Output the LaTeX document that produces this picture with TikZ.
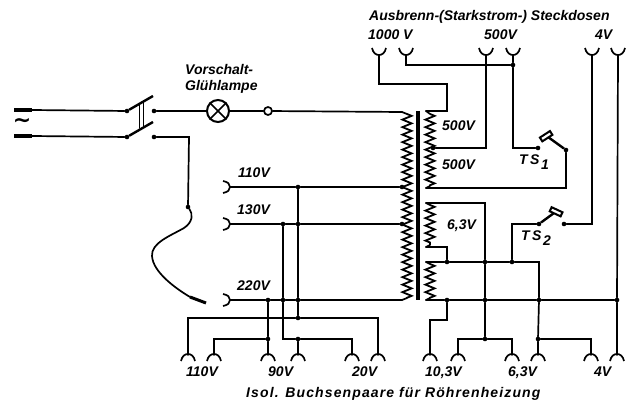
\documentclass[tikz,border=0pt]{standalone}
\usepackage{fontspec}
\setmainfont{Liberation Sans}
\newfontfamily\symf{DejaVu Sans}
\usetikzlibrary{decorations.pathmorphing}
\tikzset{
  wire/.style={line width=1.7pt,line join=miter,line cap=round,black},
  heavy/.style={line width=3.6pt,black},
  coil/.style={line width=1.8pt,black,decorate,decoration={zigzag,segment length=7.5pt,amplitude=4.6pt}},
  dot/.style={circle,fill=black,inner sep=0pt,minimum size=5pt},
  smalldot/.style={circle,fill=black,inner sep=0pt,minimum size=4.6pt},
  lab/.style={font=\fontsize{14}{15}\selectfont\bfseries\itshape,inner sep=0pt,anchor=mid west},
  sockU/.pic={\draw[line width=1.7pt] (-7,-7) .. controls (-6,-2) and (-3,0) .. (0,0) .. controls (3,0) and (6,-2) .. (7,-7);},
  sockN/.pic={\draw[line width=1.7pt] (-7,6) .. controls (-6,1) and (-3,-1) .. (0,-1) .. controls (3,-1) and (6,1) .. (7,6);},
  sockL/.pic={\draw[line width=1.7pt] (-7,-6) .. controls (-2,-5) and (0,-3) .. (0,0) .. controls (0,3) and (-2,5) .. (-7,6);}
}
\begin{document}
\begin{tikzpicture}[x=1pt,y=-1pt]
\useasboundingbox (0,0) rectangle (628,403);
% mains
\coordinate (inA) at (32,110); \coordinate (inB) at (32,136);
\coordinate (inA0) at (14,110); \coordinate (inB0) at (14,136);
\draw[heavy] (inA0) -- (inA); \draw[heavy] (inB0) -- (inB);
\node[smalldot] (swA) at (127,111) {}; \node[smalldot] (swB) at (127,137) {};
\coordinate (swAe) at (153,96); \coordinate (swBe) at (153,122);
\draw[wire] (inA) -- (swA); \draw[wire] (inB) -- (swB);
\draw[line width=2.4pt] (swA) -- (swAe); \draw[line width=2.4pt] (swB) -- (swBe);
\draw[wire] (139.5,103.5) -- (139.5,128); \draw[wire] (143.5,101.5) -- (143.5,126);
\node[inner sep=0pt] (ac) at (22,123) {\symf\bfseries\fontsize{22}{22}\selectfont ∼};
\node[smalldot] (ctA) at (154,111) {}; \node[smalldot] (ctB) at (154,137) {};
% lamp
\node[circle,draw,line width=2pt,minimum size=22pt,inner sep=0pt] (lamp) at (218,111) {};
\draw[line width=1.7pt] (lamp.north west) -- (lamp.south east) (lamp.north east) -- (lamp.south west);
\node[circle,draw,line width=1.7pt,fill=white,minimum size=8pt,inner sep=0pt] (term) at (268,111) {};
% transformer
\draw[line width=4.5pt] (418,111) -- (418,300);
\coordinate (pT) at (402,112); \coordinate (pB) at (402,300);
\draw[coil] (407,114) -- (407,298);
\draw[wire] (pT) -- (407,114) (pB) -- (407,298);
\draw[wire] (ctA) -- (lamp) -- (term) -- (pT);
% secondaries
\draw[coil] (430,114) -- (430,186);
\draw[coil] (430,205) -- (430,245);
\draw[coil] (430,264) -- (430,298);
\coordinate (s1T) at (426,111); \coordinate (s1B) at (426,188);
\coordinate (s2T) at (426,203); \coordinate (s2B) at (426,247);
\coordinate (s3T) at (426,262); \coordinate (s3B) at (426,300);
\draw[wire] (s1T) -- (430,114) (s1B) -- (430,186) (s2T) -- (430,205) (s2B) -- (430,245) (s3T) -- (430,264) (s3B) -- (430,298);
% top sockets
\coordinate (t1) at (379,55); \coordinate (t2) at (406,55); \coordinate (t3) at (486,55);
\coordinate (t4) at (513,55); \coordinate (t5) at (592,55); \coordinate (t6) at (618,55);
\foreach \c in {t1,t2,t3,t4,t5,t6} \path (\c) pic {sockU};
\node[smalldot] (tap) at (433,148) {};
\node[smalldot] (j500) at (513,65) {};
\node[smalldot] (ts1a) at (538,148) {};
\node[smalldot] (ts1p) at (566,150) {};
\draw[wire] (t1) -- (379,84) -- (447,84) -- (447,111) -- (s1T);
\draw[wire] (t2) -- (406,65) -- (j500);
\draw[wire] (t3) -- (486,148) -- (tap);
\draw[wire] (t4) -- (j500) -- (513,148) -- (ts1a);
\draw[wire] (ts1p) -- (566,188) -- (s1B);
\draw[line width=2.4pt] (ts1p) -- (548,137);
\draw[line width=2pt,fill=white,rotate around={33:(546,136)}] (540,134) rectangle (552,138.5);
% TS2
\node[smalldot] (ts2a) at (539,224) {};
\node[smalldot] (ts2c) at (564,224) {};
\draw[line width=2.4pt] (ts2a) -- (554,213);
\draw[line width=2pt,fill=white,rotate around={-25:(556,212)}] (550,209.5) rectangle (562,214);
% lower secondary wiring
\coordinate (b1) at (430,355); \coordinate (b2) at (458,355); \coordinate (b3) at (512,355);
\coordinate (b4) at (538,355); \coordinate (b5) at (591,355); \coordinate (b6) at (617,355);
\foreach \c in {b1,b2,b3,b4,b5,b6} \path (\c) pic {sockN};
\node[smalldot] (j262) at (447,262) {};
\node[smalldot] (j262b) at (485,262) {};
\node[smalldot] (j262c) at (512,262) {};
\node[smalldot] (j300) at (447,300) {};
\node[smalldot] (j300b) at (485,300) {};
\node[smalldot] (j300c) at (539,300) {};
\node[smalldot] (j300d) at (617,300) {};
\node[smalldot] (j339a) at (485,339) {};
\node[smalldot] (j339b) at (538,339) {};
\draw[wire] (s2T) -- (485,203) -- (j262b) -- (j300b) -- (j339a);
\draw[wire] (s2B) -- (447,247) -- (j262);
\draw[wire] (s3T) -- (j262) -- (j262b) -- (j262c) -- (539,262) -- (j300c) -- (j339b) -- (b4);
\draw[wire] (j262c) -- (512,224) -- (ts2a);
\draw[wire] (ts2c) -- (592,224) -- (t5);
\draw[wire] (t6) -- (j300d) -- (b6);
\draw[wire] (s3B) -- (j300) -- (j300b) -- (j300c) -- (j300d);
\draw[wire] (j300) -- (447,320) -- (430,320) -- (b1);
\draw[wire] (b2) -- (458,339) -- (j339a) -- (512,339) -- (b3);
\draw[wire] (j339b) -- (591,339) -- (b5);
% left sockets
\coordinate (l1) at (230,187); \coordinate (l2) at (230,224); \coordinate (l3) at (230,300);
\foreach \c in {l1,l2,l3} \path (\c) pic {sockL};
\node[smalldot] (p110) at (402,187) {};
\node[smalldot] (p130) at (402,224) {};
\node[smalldot] (v1) at (298,187) {};
\node[smalldot] (v2) at (298,224) {};
\node[smalldot] (v3) at (298,300) {};
\node[smalldot] (v4) at (298,318) {};
\node[smalldot] (u1) at (283,224) {};
\node[smalldot] (u2) at (283,300) {};
\node[smalldot] (w1) at (268,300) {};
\node[smalldot] (w2) at (268,339) {};
\node[smalldot] (x1) at (298,339) {};
\draw[wire] (l1) -- (v1) -- (p110);
\draw[wire] (l2) -- (u1) -- (v2) -- (p130);
\draw[wire] (l3) -- (w1) -- (u2) -- (v3) -- (pB);
\draw[wire] (v1) -- (v2) -- (v3) -- (v4);
\draw[wire] (u1) -- (u2) -- (283,339) -- (x1);
% bottom left sockets
\coordinate (a1) at (188,355); \coordinate (a2) at (214,355); \coordinate (a3) at (268,355);
\coordinate (a4) at (298,355); \coordinate (a5) at (352,355); \coordinate (a6) at (378,355);
\foreach \c in {a1,a2,a3,a4,a5,a6} \path (\c) pic {sockN};
\draw[wire] (a1) -- (188,318) -- (v4) -- (378,318) -- (a6);
\draw[wire] (w1) -- (w2) -- (a3);
\draw[wire] (a2) -- (214,339) -- (w2);
\draw[wire] (x1) -- (352,339) -- (a5);
\draw[wire] (x1) -- (a4);
% flexible lead
\node[smalldot] (flex) at (188,207) {};
\coordinate (flexE) at (190,297);
\draw[wire] (ctB) -- (189,137) -- (flex);
\draw[wire] (flex) .. controls (193,214) and (193,222) .. (184,228) .. controls (170,236) and (151,243) .. (152,256) .. controls (153,272) and (175,288) .. (flexE);
\draw[line width=3pt] (flexE) -- (206,303);
% labels
\node[lab] (n1) at (185,72) {Vorschalt-};
\node[lab] (n2) at (185,88) {Glühlampe};
\node[lab] (n3) at (369,18) {Ausbrenn-(Starkstrom-) Steckdosen};
\node[lab] (n4) at (368,37) {1000 V};
\node[lab] (n5) at (484,37) {500V};
\node[lab] (n6) at (595,37) {4V};
\node[lab] (n7) at (442,128) {500V};
\node[lab] (n8) at (442,167) {500V};
\node[lab] (n9) at (519,162) {T\,S};
\node[lab] (n10) at (541,167) {1};
\node[lab] (n11) at (447,227) {6,3V};
\node[lab] (n12) at (521,238) {T\,S};
\node[lab] (n13) at (543,243) {2};
\node[lab] (n14) at (238,175) {110V};
\node[lab] (n15) at (237,212) {130V};
\node[lab] (n16) at (237,288) {220V};
\node[lab] (n17) at (186,374) {110V};
\node[lab] (n18) at (268,374) {90V};
\node[lab] (n19) at (352,374) {20V};
\node[lab] (n20) at (425,374) {10,3V};
\node[lab] (n21) at (508,374) {6,3V};
\node[lab] (n22) at (594,374) {4V};
\node[lab] (n23) at (246,395) {\addfontfeature{LetterSpace=8}Isol. Buchsenpaare für Röhrenheizung};
\end{tikzpicture}
\end{document}
